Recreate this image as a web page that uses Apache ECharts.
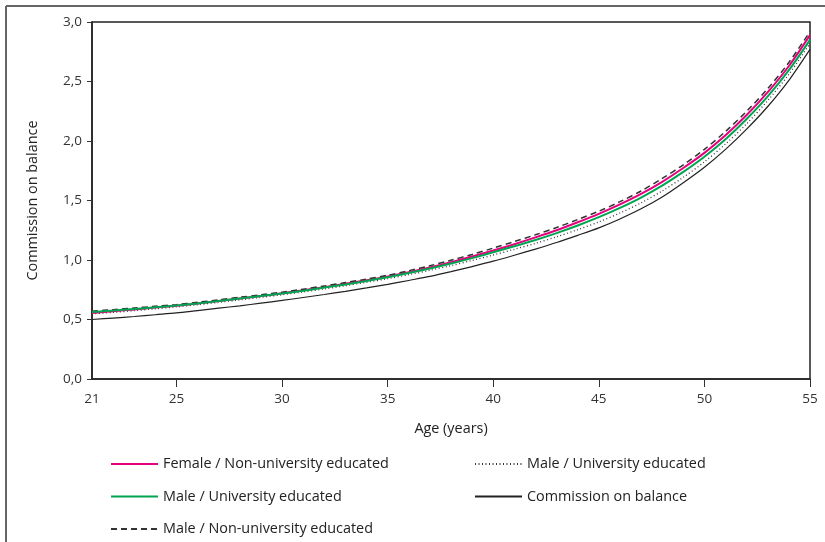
<!DOCTYPE html>
<html>
<head>
<meta charset="utf-8">
<script src="https://cdn.jsdelivr.net/npm/echarts@6/dist/echarts.min.js"></script>
<style>html,body{margin:0;padding:0;background:#fff;}#c{width:825px;height:542px;}</style>
</head>
<body>
<div id="c"></div>
<script>
var ages = [21,22,23,24,25,26,27,28,29,30,31,32,33,34,35,36,37,38,39,40,41,42,43,44,45,46,47,48,49,50,51,52,53,54,55];
var femaleNonUniv = [0.555,0.570,0.585,0.600,0.615,0.635,0.655,0.677,0.698,0.720,0.745,0.772,0.800,0.830,0.862,0.898,0.938,0.982,1.030,1.080,1.133,1.190,1.250,1.317,1.388,1.467,1.555,1.657,1.773,1.900,2.048,2.218,2.410,2.630,2.890];
var maleUnivGreen = [0.563,0.575,0.588,0.602,0.617,0.635,0.655,0.676,0.697,0.718,0.742,0.768,0.795,0.824,0.855,0.890,0.928,0.970,1.016,1.065,1.115,1.168,1.226,1.290,1.360,1.438,1.525,1.625,1.740,1.868,2.015,2.185,2.375,2.595,2.850];
var maleNonUniv = [0.570,0.583,0.597,0.611,0.625,0.645,0.665,0.687,0.708,0.730,0.755,0.782,0.810,0.840,0.872,0.910,0.952,0.998,1.047,1.100,1.155,1.212,1.273,1.340,1.410,1.490,1.580,1.685,1.800,1.930,2.080,2.250,2.440,2.660,2.920];
var maleUnivDotted = [0.547,0.560,0.574,0.590,0.606,0.624,0.644,0.665,0.686,0.708,0.732,0.757,0.784,0.813,0.843,0.877,0.913,0.953,0.996,1.042,1.090,1.140,1.195,1.255,1.320,1.395,1.480,1.580,1.695,1.825,1.975,2.145,2.340,2.560,2.820];
var commissionBalance = [0.500,0.512,0.525,0.540,0.555,0.575,0.595,0.615,0.637,0.660,0.685,0.710,0.737,0.765,0.795,0.828,0.862,0.902,0.945,0.990,1.040,1.092,1.147,1.207,1.270,1.345,1.430,1.530,1.650,1.780,1.930,2.100,2.290,2.510,2.770];
var xLabelValues = [21,25,30,35,40,45,50,55];
var xTickValues = [25,30,35,40,45,50,55];

var NAME_PINK = 'Female / Non-university educated';
var NAME_GREEN = 'Male / University educated';
var NAME_DASH = 'Male / Non-university educated';
var NAME_DOT = 'Male / University educated\u200B';
var NAME_BLACK = 'Commission on balance';

function pairs(arr){ return ages.map(function(a,i){ return [a, arr[i]]; }); }
var FONT = 'Open Sans';

function mk(name, data, color, width, type, z){
  return {name:name, type:'line', data:pairs(data), symbol:'none', showSymbol:false, smooth:0.3,
    lineStyle:{color:color, width:width, type:type}, itemStyle:{color:color}, z:z, silent:true, animation:false};
}

var legendCommon = {orient:'vertical', top:457, padding:0, itemGap:18.5, itemWidth:47, itemHeight:14,
  selectedMode:false, itemStyle:{opacity:0, borderWidth:0},
  textStyle:{fontFamily:FONT, fontSize:14.4, color:'#222'}};

var chart = echarts.init(document.getElementById('c'), null, {renderer:'canvas'});
chart.setOption({
  animation:false,
  backgroundColor:'#fff',
  grid:{left:92, right:15, top:22, bottom:163, show:true, borderColor:'#222', borderWidth:1.5, backgroundColor:'transparent'},
  xAxis:{type:'value', min:21, max:55,
    name:'Age (years)', nameLocation:'middle', nameGap:43,
    nameTextStyle:{fontFamily:FONT, fontSize:14.4, color:'#222'},
    axisLine:{show:true, lineStyle:{color:'#222', width:1.5}},
    axisTick:{show:true, customValues:xTickValues, length:8, lineStyle:{color:'#333', width:1}},
    axisLabel:{customValues:xLabelValues, fontFamily:FONT, fontSize:13.5, color:'#333', margin:13},
    splitLine:{show:false}},
  yAxis:{type:'value', min:0, max:3, interval:0.5,
    name:'Commission on balance', nameLocation:'middle', nameGap:52, nameRotate:90,
    nameTextStyle:{fontFamily:FONT, fontSize:14.4, color:'#222'},
    axisLine:{show:true, lineStyle:{color:'#222', width:1.5}},
    axisTick:{show:true, length:5, lineStyle:{color:'#333', width:1}},
    axisLabel:{fontFamily:FONT, fontSize:13.5, color:'#333', margin:10,
      formatter:function(v){ return v.toFixed(1).replace('.', ','); }},
    splitLine:{show:false}},
  legend:[
    Object.assign({left:110, data:[NAME_PINK, NAME_GREEN, NAME_DASH]}, legendCommon),
    Object.assign({left:474, data:[NAME_DOT, NAME_BLACK]}, legendCommon)
  ],
  series:[
    mk(NAME_BLACK, commissionBalance, '#222', 1.2, 'solid', 2),
    mk(NAME_DOT, maleUnivDotted, '#333', 1.3, [1,2.5], 3),
    mk(NAME_PINK, femaleNonUniv, '#e5007d', 2, 'solid', 4),
    mk(NAME_DASH, maleNonUniv, '#333', 1.5, [6,4], 5),
    mk(NAME_GREEN, maleUnivGreen, '#00a551', 2, 'solid', 6)
  ],
  graphic:[
    {type:'line', shape:{x1:6, y1:6, x2:825, y2:6}, style:{stroke:'#666', lineWidth:2}, silent:true},
    {type:'line', shape:{x1:6, y1:6, x2:6, y2:542}, style:{stroke:'#666', lineWidth:2}, silent:true}
  ]
});
</script>
</body>
</html>
